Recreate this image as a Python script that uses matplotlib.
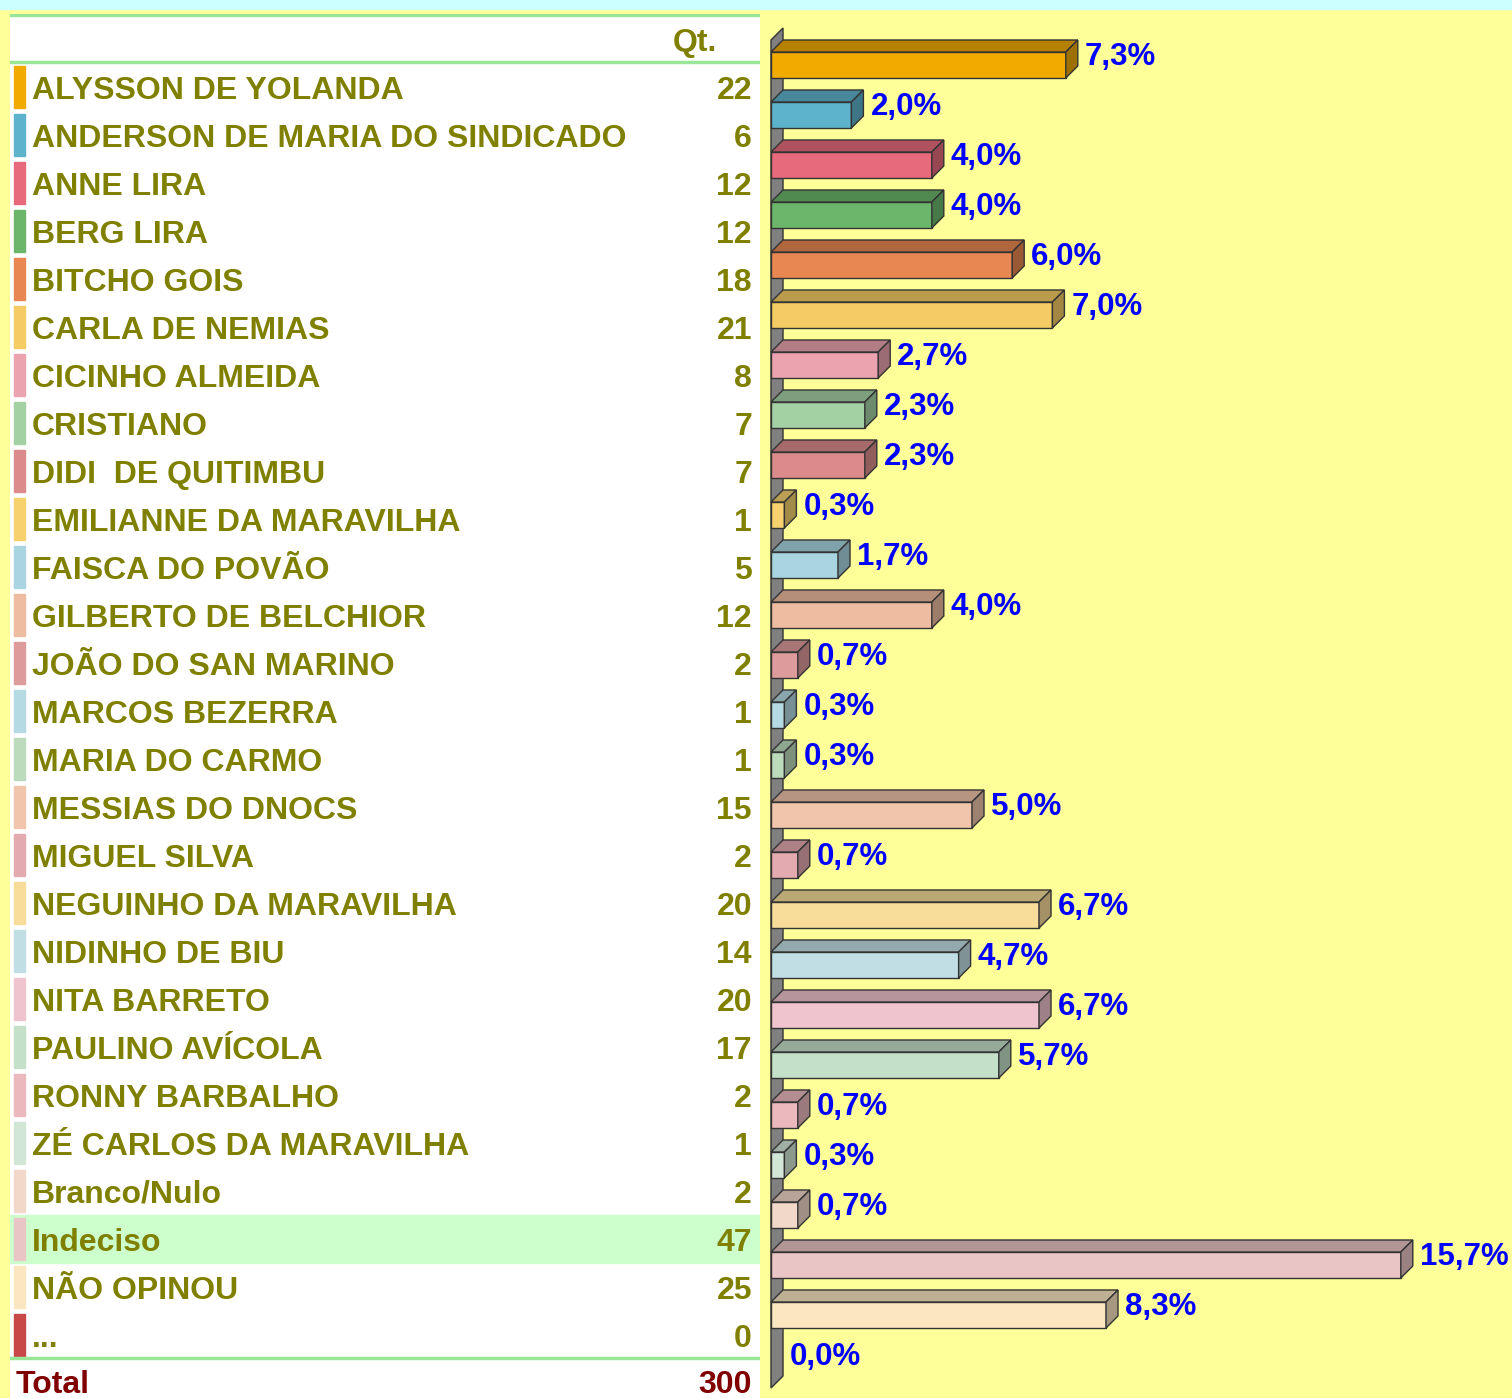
import matplotlib.pyplot as plt
from matplotlib.patches import Polygon, Rectangle
from matplotlib.colors import to_rgb

plt.rcParams["font.family"] = ["Liberation Sans", "DejaVu Sans"]

# Dados
nomes = ["ALYSSON DE YOLANDA", "ANDERSON DE MARIA DO SINDICADO", "ANNE LIRA",
         "BERG LIRA", "BITCHO GOIS", "CARLA DE NEMIAS", "CICINHO ALMEIDA",
         "CRISTIANO", "DIDI  DE QUITIMBU", "EMILIANNE DA MARAVILHA",
         "FAISCA DO POVÃO", "GILBERTO DE BELCHIOR", "JOÃO DO SAN MARINO",
         "MARCOS BEZERRA", "MARIA DO CARMO", "MESSIAS DO DNOCS", "MIGUEL SILVA",
         "NEGUINHO DA MARAVILHA", "NIDINHO DE BIU", "NITA BARRETO",
         "PAULINO AVÍCOLA", "RONNY BARBALHO", "ZÉ CARLOS DA MARAVILHA",
         "Branco/Nulo", "Indeciso", "NÃO OPINOU", "..."]
qtd = [22, 6, 12, 12, 18, 21, 8, 7, 7, 1, 5, 12, 2, 1, 1, 15, 2, 20, 14, 20,
       17, 2, 1, 2, 47, 25, 0]
cores = ["#F0AA00", "#5EB3CC", "#E66A7C", "#6BB66B", "#E88751", "#F5CB63",
         "#EBA4AF", "#A4D1A4", "#DB8B8B", "#F6D16E", "#A9D5E1", "#EEBCA0",
         "#DD9B9B", "#B5DAE4", "#BCDABC", "#F0C5AB", "#E3AAAF", "#F8DD9A",
         "#C1DEE5", "#F0C4CE", "#C4E0C8", "#EBB9BD", "#D2E6D6", "#F2D8C8",
         "#EAC5C5", "#FAE7C0", "#C84848"]
destaque = "Indeciso"
total = sum(qtd)
perc = [q / total * 100 for q in qtd]

W, H = 1512, 1398
fig = plt.figure(figsize=(W / 100, H / 100), dpi=100)
fig.patch.set_facecolor("#FFFF99")
fig.patches.append(Rectangle((0, 1 - 9 / H), 1, 9 / H, transform=fig.transFigure,
                             color="#CCFFFF", zorder=0))

oliva = "#808000"
fs = 23
fs_p = 22.5

# Tabela (esquerda)
ax_t = fig.add_axes([10 / W, 0, 750 / W, (H - 14) / H])
ax_t.set_axis_off()
ax_t.set_xlim(0, 750)
ax_t.set_ylim((H - 87) / 48, (14 - 87) / 48)
ax_t.add_patch(Rectangle((0, 0), 1, 1, transform=ax_t.transAxes, color="white", zorder=0))
for y in [-1.5, -0.52, 26.48]:
    ax_t.axhline(y, color="#99E699", lw=2.5, zorder=3)

ax_t.text(707, -1 + 0.24, "Qt.", color=oliva, fontsize=fs, fontweight="bold",
          ha="right", va="baseline")
for i, (n, q, c) in enumerate(zip(nomes, qtd, cores)):
    if n == destaque:
        ax_t.add_patch(Rectangle((0, i - 0.5), 750, 1, color="#CCFFCC", zorder=1))
    ax_t.add_patch(Rectangle((4, i - 0.43), 11, 0.86, color=c, zorder=2))
    ax_t.text(22, i + 0.24, n, color=oliva, fontsize=fs, fontweight="bold",
              ha="left", va="baseline", zorder=4)
    ax_t.text(742, i + 0.24, str(q), color=oliva, fontsize=fs, fontweight="bold",
              ha="right", va="baseline", zorder=4)
n_rows = len(nomes)
ax_t.text(6, n_rows + 0.2, "Total", color="#800000", fontsize=fs, fontweight="bold",
          ha="left", va="baseline")
ax_t.text(742, n_rows + 0.2, str(total), color="#800000", fontsize=fs, fontweight="bold",
          ha="right", va="baseline")

# Barras 3D (direita)
px_x = 40.2  # pixels por ponto percentual
px_y = 50
ax_b = fig.add_axes([760 / W, 0, 752 / W, (H - 9) / H])
ax_b.set_axis_off()
ax_b.set_xlim(-11 / px_x, 741 / px_x)
ax_b.set_ylim((H - 65) / px_y, (9 - 65) / px_y)

dx = 12 / px_x
dy = 12 / px_y
hb = 0.26

def escurecer(c, f):
    r, g, b = to_rgb(c)
    return (r * f, g * f, b * f)

y0, y1 = -0.5, n_rows - 0.54
ax_b.add_patch(Polygon([(0, y0), (dx, y0 - dy), (dx, y1 - dy), (0, y1)],
                       closed=True, facecolor="#808080", edgecolor="#333333",
                       lw=1, zorder=1))

for i, (p, c) in enumerate(zip(perc, cores)):
    if p > 0:
        ax_b.barh(i, p, height=2 * hb, left=0, color=c, edgecolor="#333333",
                  lw=1, zorder=2)
        topo = [(0, i - hb), (dx, i - hb - dy), (p + dx, i - hb - dy), (p, i - hb)]
        lado = [(p, i - hb), (p + dx, i - hb - dy), (p + dx, i + hb - dy), (p, i + hb)]
        ax_b.add_patch(Polygon(topo, closed=True, facecolor=escurecer(c, 0.76),
                               edgecolor="#333333", lw=1, zorder=2))
        ax_b.add_patch(Polygon(lado, closed=True, facecolor=escurecer(c, 0.66),
                               edgecolor="#333333", lw=1, zorder=2))
    rot = f"{p:.1f}".replace(".", ",") + "%"
    ax_b.text(p + dx + 7 / px_x, i, rot, color="#0000FF", fontsize=fs_p,
              fontweight="bold", ha="left", va="baseline", zorder=5)

fig.savefig("out.png", dpi=100, facecolor=fig.get_facecolor())
